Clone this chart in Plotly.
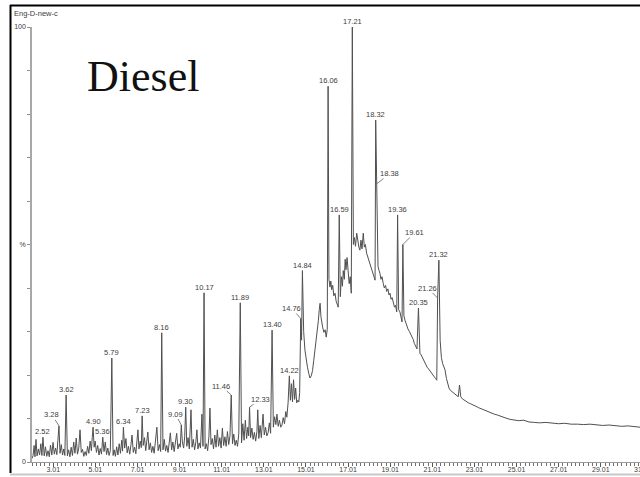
import plotly.graph_objects as go

# ---- Chromatogram trace: retention time (min) and relative abundance (%) ----
rt_base = [
    2.00, 2.05, 2.10, 2.14, 2.19, 2.24, 2.30, 2.36, 2.42, 2.47,
    2.58, 2.64, 2.70, 2.76, 2.82, 2.88, 2.94, 3.00, 3.06, 3.12,
    3.18, 3.23, 3.33, 3.39, 3.45, 3.51, 3.56, 3.68, 3.74, 3.80,
    3.86, 3.92, 3.98, 4.04, 4.10, 4.16, 4.22, 4.28, 4.34, 4.40,
    4.46, 4.52, 4.58, 4.64, 4.70, 4.76, 4.82, 4.86, 4.95, 5.00,
    5.06, 5.12, 5.18, 5.24, 5.30, 5.42, 5.48, 5.54, 5.60, 5.66,
    5.72, 5.85, 5.90, 5.96, 6.02, 6.08, 6.14, 6.20, 6.26, 6.30,
    6.40, 6.46, 6.52, 6.58, 6.64, 6.70, 6.75, 6.81, 6.87, 6.93,
    6.98, 7.03, 7.08, 7.14, 7.19, 7.28, 7.34, 7.40, 7.45, 7.50,
    7.56, 7.62, 7.68, 7.74, 7.80, 7.86, 7.93, 7.99, 8.05, 8.11,
    8.22, 8.28, 8.34, 8.40, 8.46, 8.52, 8.57, 8.63, 8.69, 8.75,
    8.81, 8.87, 8.93, 8.99, 9.04, 9.14, 9.20, 9.25, 9.35, 9.41,
    9.47, 9.55, 9.60, 9.66, 9.72, 9.78, 9.83, 9.88, 9.94, 10.00,
    10.07, 10.12, 10.22, 10.28, 10.34, 10.40, 10.45, 10.50, 10.56, 10.62,
    10.68, 10.74, 10.80, 10.86, 10.92, 10.98, 11.04, 11.10, 11.16, 11.22,
    11.28, 11.34, 11.40, 11.52, 11.58, 11.64, 11.70, 11.76, 11.82, 11.95,
    12.01, 12.07, 12.13, 12.19, 12.25, 12.29, 12.38, 12.44, 12.50, 12.56,
    12.62, 12.68, 12.72, 12.77, 12.83, 12.89, 12.97, 13.03, 13.09, 13.15,
    13.21, 13.27, 13.33, 13.46, 13.52, 13.58, 13.63, 13.69, 13.75, 13.81,
    13.87, 13.93, 13.99, 14.05, 14.10, 14.16, 14.27, 14.32, 14.37, 14.42,
    14.47, 14.52, 14.57, 14.62, 14.67, 14.71, 14.80, 14.90, 14.96, 15.02,
    15.08, 15.14, 15.20, 15.26, 15.32, 15.38, 15.44, 15.50, 15.55, 15.60,
    15.64, 15.68, 15.72, 15.76, 15.80, 15.86, 15.92, 15.97, 16.02, 16.10,
    16.15, 16.19, 16.23, 16.28, 16.33, 16.39, 16.44, 16.49, 16.54, 16.64,
    16.69, 16.74, 16.78, 16.83, 16.87, 16.91, 16.96, 17.01, 17.06, 17.11,
    17.16, 17.26, 17.31, 17.36, 17.42, 17.47, 17.52, 17.57, 17.62, 17.67,
    17.73, 17.78, 17.83, 17.89, 17.94, 17.99, 18.05, 18.10, 18.15, 18.20,
    18.25, 18.29, 18.43, 18.48, 18.52, 18.57, 18.62, 18.68, 18.73, 18.79,
    18.84, 18.90, 18.95, 19.00, 19.05, 19.10, 19.16, 19.21, 19.26, 19.32,
    19.41, 19.47, 19.53, 19.57, 19.66, 19.71, 19.78, 19.85, 19.92, 19.98,
    20.04, 20.10, 20.16, 20.22, 20.28, 20.42, 20.48, 20.55, 20.62, 20.69,
    20.76, 20.83, 20.90, 20.97, 21.04, 21.10, 21.16, 21.22, 21.38, 21.44,
    21.50, 21.56, 21.61, 21.68, 21.74, 21.80, 21.86, 21.93, 22.00, 22.08,
    22.16, 22.24, 22.30, 22.36, 22.44, 22.52, 22.62, 22.72, 22.82, 22.95,
    23.08, 23.20, 23.35, 23.50, 23.65, 23.80, 23.95, 24.10, 24.30, 24.50,
    24.70, 24.90, 25.10, 25.35, 25.60, 25.85, 26.10, 26.40, 26.70, 27.00,
    27.30, 27.60, 27.90, 28.20, 28.50, 28.80, 29.10, 29.40, 29.70, 30.00,
    30.30, 30.60, 30.87,
]
sig_base = [
    0.8, 1.5, 3.8, 1.2, 5.2, 1.4, 3.0, 1.6, 4.2, 1.5,
    1.4, 3.5, 1.3, 2.6, 1.2, 3.9, 1.6, 4.5, 1.8, 3.2,
    1.7, 5.0, 2.0, 4.0, 1.6, 3.0, 1.5, 1.4, 2.8, 1.2,
    3.4, 1.5, 4.6, 2.0, 5.5, 1.8, 3.2, 7.4, 2.2, 2.9,
    1.3, 2.4, 1.5, 3.6, 2.0, 4.8, 2.6, 5.6, 3.4, 4.8,
    2.2, 3.8, 1.6, 3.1, 1.8, 2.4, 4.6, 1.7, 3.2, 1.5,
    2.6, 1.5, 2.8, 1.3, 3.5, 1.6, 4.2, 2.0, 5.0, 2.5,
    3.2, 5.4, 2.1, 3.6, 1.8, 4.0, 6.2, 2.2, 3.4, 1.9,
    4.5, 7.4, 3.0, 4.8, 3.3, 3.8, 5.6, 2.6, 4.2, 6.9,
    2.8, 4.4, 2.2, 3.6, 2.0, 4.9, 8.0, 2.6, 4.0, 2.4,
    2.8, 5.2, 2.5, 3.8, 2.2, 4.4, 6.7, 2.8, 4.6, 2.4,
    5.0, 6.6, 3.0, 4.2, 3.4, 4.6, 3.2, 5.8, 3.6, 5.6,
    3.0, 12.0, 3.4, 5.2, 2.8, 4.6, 7.4, 3.0, 4.4, 3.2,
    11.0, 3.6, 3.0, 4.2, 2.6, 5.8, 12.4, 4.0, 5.4, 3.0,
    6.2, 3.4, 7.4, 3.6, 5.6, 3.2, 7.8, 3.8, 5.8, 3.6,
    7.0, 4.0, 6.0, 4.2, 6.4, 3.8, 5.0, 3.6, 6.6, 4.4,
    8.8, 5.0, 9.6, 5.4, 8.0, 6.0, 5.6, 7.8, 5.2, 6.8,
    4.8, 7.0, 12.0, 5.4, 8.4, 5.6, 11.0, 6.2, 8.0, 6.0,
    6.7, 9.0, 6.6, 8.0, 10.4, 8.6, 11.0, 8.2, 9.6, 8.0,
    8.5, 10.2, 8.8, 11.6, 10.3, 13.6, 14.2, 18.0, 13.8, 18.9,
    14.4, 17.0, 13.6, 14.2, 13.8, 16.0, 28.0, 30.0, 25.7, 23.4,
    21.8, 20.4, 19.3, 19.8, 21.0, 23.4, 25.7, 28.6, 31.0, 32.6,
    35.0, 36.5, 33.4, 32.0, 31.0, 29.8, 30.4, 28.7, 30.5, 42.0,
    40.2, 41.6, 39.6, 40.6, 38.2, 38.8, 37.0, 36.4, 35.6, 38.0,
    42.6, 40.4, 44.0, 42.0, 46.6, 44.2, 47.0, 42.8, 41.0, 42.6,
    38.8, 50.0, 51.6, 49.6, 52.6, 50.2, 49.4, 48.7, 51.0, 49.0,
    52.6, 49.4, 50.0, 48.0, 47.2, 46.4, 45.7, 44.6, 43.8, 43.0,
    42.4, 41.8, 45.0, 44.0, 43.4, 42.0, 42.6, 41.0, 40.0, 40.6,
    39.2, 39.8, 38.4, 38.8, 37.4, 37.8, 36.5, 35.6, 36.0, 34.5,
    35.0, 34.5, 33.2, 32.2, 33.6, 32.6, 31.4, 30.6, 30.0, 29.4,
    28.6, 28.2, 27.2, 26.6, 26.0, 25.0, 24.6, 23.8, 23.0, 22.4,
    21.8, 21.4, 21.0, 20.6, 20.0, 19.6, 19.2, 18.8, 28.0, 24.0,
    22.6, 21.8, 21.2, 19.2, 18.0, 17.0, 16.5, 16.2, 15.8, 15.6,
    15.3, 15.0, 17.7, 15.0, 14.5, 14.2, 13.9, 13.6, 13.4, 13.0,
    12.8, 12.5, 12.2, 11.9, 11.6, 11.2, 11.0, 10.8, 10.4, 10.1,
    9.8, 9.7, 9.5, 9.6, 9.2, 9.1, 9.0, 9.1, 8.9, 8.8,
    8.9, 8.7, 8.7, 8.6, 8.7, 8.5, 8.4, 8.5, 8.3, 8.2,
    8.3, 8.1, 8.0,
]

# ---- Labelled peaks: retention time (min) and apex height (%) ----
peak_rt = [2.52, 3.28, 3.62, 4.90, 5.36, 5.79, 6.34, 7.23, 8.16, 9.09,
           9.30, 10.17, 11.46, 11.89, 12.33, 13.40, 14.22, 14.76, 14.84, 16.06,
           16.59, 17.21, 18.32, 18.38, 19.36, 19.61, 20.35, 21.26, 21.32]
peak_pct = [5.7, 8.3, 15.4, 8.0, 5.7, 23.9, 8.0, 10.6, 29.7, 8.5,
            12.6, 38.9, 15.4, 36.6, 12.6, 30.3, 19.8, 33.0, 44.0, 86.4,
            56.8, 100.0, 78.6, 64.0, 56.8, 50.0, 35.4, 37.7, 46.4]

x_tick_first = 3.01
x_tick_step = 2

# ---- Layout geometry (pixels) ----
W, H = 640, 477
ML, MR, MT, MB = 32, 0, 27, 15
PW, PH = W - ML - MR, H - MT - MB


def px(xp):
    return (xp - ML) / PW


def py(yp):
    return (H - MB - yp) / PH


# merge the baseline samples with the labelled apexes, in time order
points = sorted(zip(rt_base + peak_rt, sig_base + peak_pct))
xs = [p[0] for p in points]
ys = [p[1] for p in points]

fig = go.Figure()
fig.add_trace(go.Scatter(
    x=xs, y=ys, mode="lines",
    line=dict(color="#505050", width=1),
    hoverinfo="skip", showlegend=False,
))

label_font = dict(family="Liberation Sans, Arial, sans-serif", size=7.5, color="#404040")

# labels that sit beside their peak with a short leader line: (ax, ay) in px
leaders = {
    "3.28": (-7, -11),
    "9.09": (-6, -11),
    "11.46": (-10, -9),
    "12.33": (11, -8),
    "14.76": (-9, -10),
    "18.38": (13, -10),
    "19.61": (12, -12),
    "21.26": (-10, -10),
}

annotations = []
for t, v in zip(peak_rt, peak_pct):
    txt = f"{t:.2f}"
    if txt in leaders:
        ax, ay = leaders[txt]
        annotations.append(dict(
            x=t, y=v, xref="x", yref="y", text=txt, font=label_font,
            showarrow=True, arrowhead=0, arrowwidth=0.8, arrowcolor="#606060",
            ax=ax, ay=ay, standoff=0, borderpad=0,
        ))
    else:
        annotations.append(dict(
            x=t, y=v, xref="x", yref="y", text=txt, font=label_font,
            showarrow=False, xanchor="center", yanchor="bottom", yshift=0,
            borderpad=0,
        ))

# sample name, top-left
annotations.append(dict(
    x=px(12), y=py(13), xref="paper", yref="paper", text="Eng-D-new-c",
    showarrow=False, xanchor="left", yanchor="middle",
    font=dict(family="Liberation Sans, Arial, sans-serif", size=7.5, color="#404040"),
))
# title text
annotations.append(dict(
    x=px(85), y=py(77), xref="paper", yref="paper", text="Diesel",
    showarrow=False, xanchor="left", yanchor="middle",
    font=dict(family="Liberation Serif, Times New Roman, serif", size=44, color="#111111"),
))
# last tick label, cut by the right edge
annotations.append(dict(
    x=px(643), y=py(469), xref="paper", yref="paper", text="31.01",
    showarrow=False, xanchor="center", yanchor="middle",
    font=dict(family="Liberation Sans, Arial, sans-serif", size=7, color="#404040"),
))

shapes = [
    # outer frame: left and top black edges, pale bottom edge
    dict(type="line", xref="paper", yref="paper", x0=px(10.5), x1=px(10.5),
         y0=py(5), y1=py(473), line=dict(color="#000000", width=2)),
    dict(type="line", xref="paper", yref="paper", x0=px(10), x1=px(641),
         y0=py(5.5), y1=py(5.5), line=dict(color="#000000", width=2)),
    dict(type="line", xref="paper", yref="paper", x0=px(10), x1=px(641),
         y0=py(474.5), y1=py(474.5), line=dict(color="#c8c8c8", width=2)),
]

y_ticktext = ["0"] + [""] * 4 + ["%"] + [""] * 4 + ["100"]

fig.update_layout(
    width=W, height=H,
    margin=dict(l=ML, r=MR, t=MT, b=MB, pad=0),
    paper_bgcolor="white", plot_bgcolor="white",
    annotations=annotations, shapes=shapes,
    showlegend=False,
    xaxis=dict(
        range=[2.0, 30.87], showgrid=False, zeroline=False,
        showline=True, linecolor="#9a9a9a", linewidth=1,
        tickmode="linear", tick0=x_tick_first, dtick=x_tick_step, tickformat=".2f",
        ticks="outside", ticklen=4, tickwidth=1, tickcolor="#555555",
        minor=dict(ticks="outside", dtick=0.2, tick0=x_tick_first, ticklen=2.5,
                   tickwidth=1, tickcolor="#707070", showgrid=False),
        tickfont=dict(family="Liberation Sans, Arial, sans-serif", size=7, color="#404040"),
        ticklabelstandoff=-3,
        fixedrange=True,
    ),
    yaxis=dict(
        range=[0, 100], showgrid=False, zeroline=False,
        showline=True, linecolor="#a8a8a8", linewidth=1.5,
        tickmode="array", tickvals=list(range(0, 101, 10)), ticktext=y_ticktext,
        ticks="outside", ticklen=3, tickwidth=1, tickcolor="#909090",
        tickfont=dict(family="Liberation Sans, Arial, sans-serif", size=7, color="#404040"),
        ticklabelstandoff=0,
        fixedrange=True,
    ),
)

fig.write_html("out.html")
